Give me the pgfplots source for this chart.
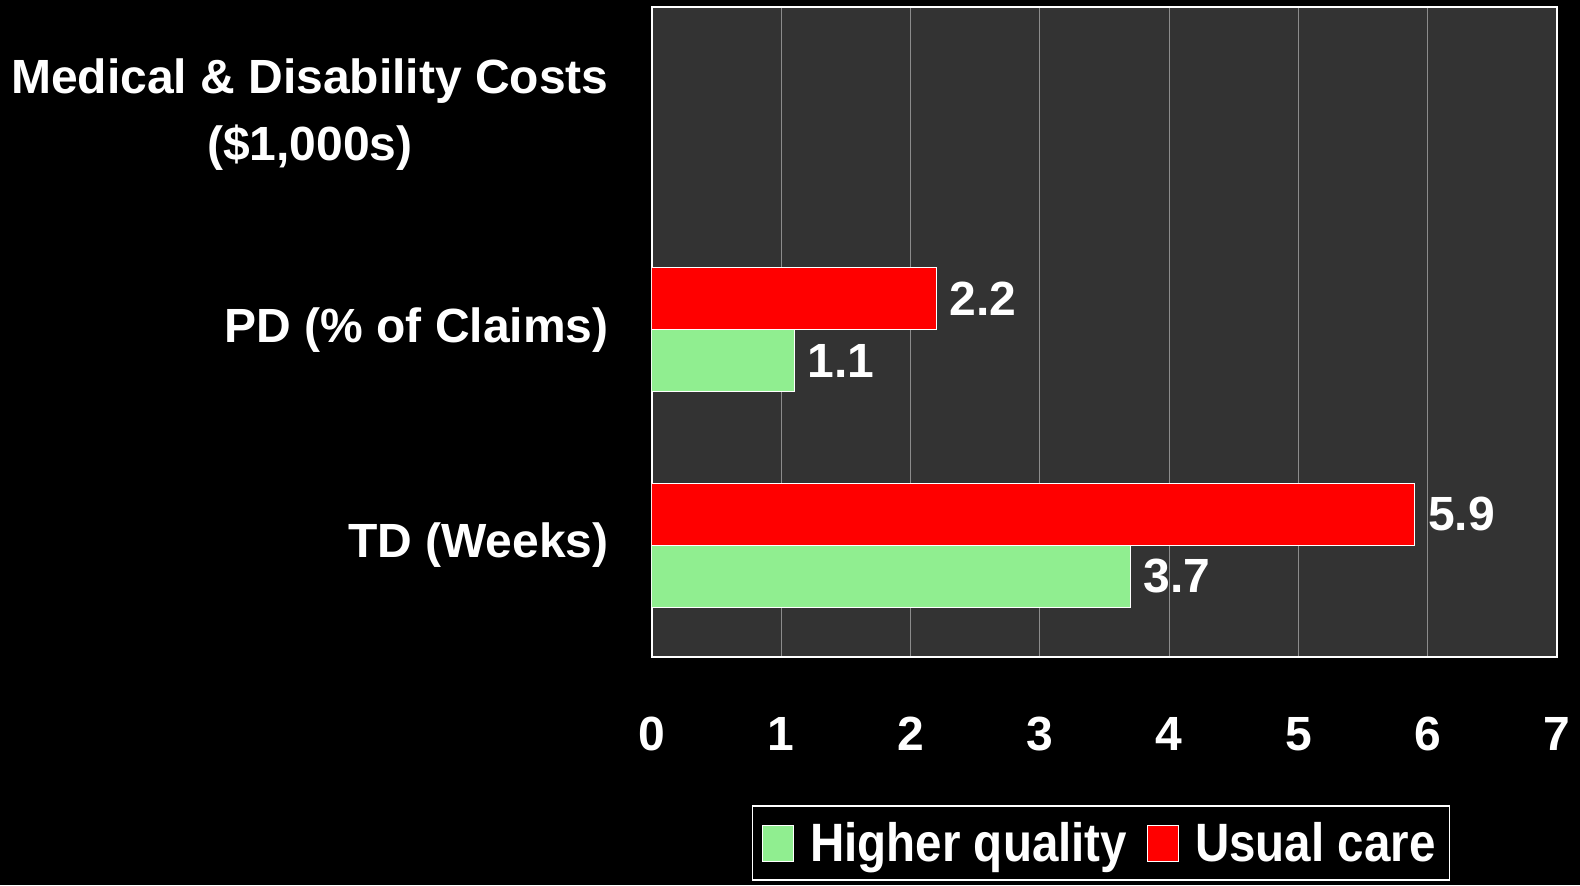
\documentclass[border=0pt]{standalone}
\usepackage{pgfplots}
\pgfplotsset{compat=1.18}
\usepackage{fontspec}
\setmainfont{Liberation Sans}
\definecolor{hqgreen}{HTML}{90EE90}
\definecolor{ucred}{HTML}{FF0000}
\definecolor{plotbg}{HTML}{333333}
\definecolor{gridgray}{HTML}{8C8C8C}
\begin{document}
\begin{tikzpicture}
\fill[black] (-326pt,-114pt) rectangle (464pt,328.5pt);
\begin{axis}[
    at={(0,0)}, anchor=south west,
    scale only axis,
    width=452.5pt, height=325pt,
    xbar,
    bar width=31pt,
    xmin=0, xmax=7,
    ymin=-0.52, ymax=2.5,
    xtick={0,1,...,7},
    ytick={0,1,2},
    yticklabels={TD (Weeks), PD (\% of Claims), {Medical \& Disability Costs\\(\$1,000s)}},
    major tick length=0pt,
    xmajorgrids=true,
    grid style={gridgray, line width=0.6pt},
    axis line style={white, line width=0.9pt},
    axis background/.style={fill=plotbg},
    font=\fontsize{24}{33.5}\selectfont\bfseries,
    ticklabel style={text=white},
    /pgf/number format/assume math mode=true,
    yticklabel style={align=center, anchor=east, inner sep=0pt, xshift=-21.5pt},
    xticklabel style={anchor=north, inner sep=0pt, yshift=-30pt},
    nodes near coords,
    nodes near coords style={text=white, anchor=west, inner sep=0pt, xshift=6.5pt,
        /pgf/number format/fixed, /pgf/number format/precision=1,
        /pgf/number format/fixed zerofill},
    legend columns=-1,
    legend style={at={(axis description cs:0.11,-0.228)}, anchor=north west,
        fill=black, draw=white, line width=0.8pt, text=white,
        font=\fontsize{27}{30}\selectfont\bfseries,
        inner xsep=5pt, inner ysep=6pt,
        /tikz/every odd column/.append style={column sep=6pt},
        /tikz/every even column/.append style={column sep=8pt}},
    legend image code/.code={\draw[#1, draw=white, line width=0.5pt] (0pt,-9pt) rectangle (15.5pt,9pt);},
]
\addplot[fill=hqgreen, draw=white, line width=0.5pt, bar shift=-15.5pt] coordinates {(3.7,0) (1.1,1)};
\addlegendentry{\scalebox{0.88}[1]{Higher quality}}
\addplot[fill=ucred, draw=white, line width=0.5pt, bar shift=15.5pt] coordinates {(5.9,0) (2.2,1)};
\addlegendentry{\scalebox{0.88}[1]{Usual care}}
\end{axis}
\pgfresetboundingbox
\useasboundingbox (-326pt,-114pt) rectangle (464pt,328.5pt);
\end{tikzpicture}
\end{document}
